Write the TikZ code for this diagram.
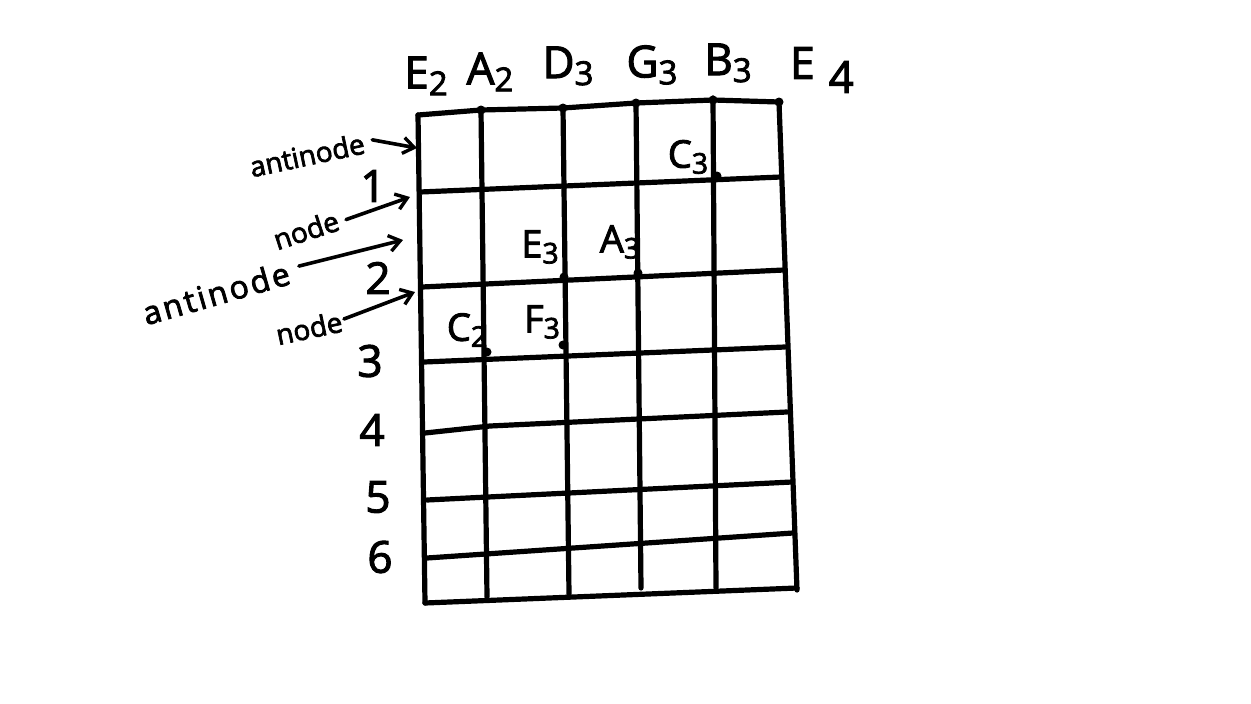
\documentclass[tikz,border=0pt]{standalone}
\usepackage{fontspec}
\setmainfont{Open Sans}[FakeBold=2.5]
\usetikzlibrary{arrows.meta}
\newcommand\lowsub[2][-7pt]{\raisebox{#1}{\scalebox{0.75}{#2}}}
\begin{document}
\begin{tikzpicture}[x=1pt,y=-1pt,
  gridline/.style={line width=5.2pt,line cap=round,line join=round},
  pen/.style={line width=3.6pt,line cap=round,-{Straight Barb[length=11pt,width=16pt,line width=3.4pt]}},
  dotmark/.style={fill=black,circle,inner sep=0pt,minimum size=9pt},
  toplab/.style={font=\fontsize{44}{44}\selectfont,inner sep=0pt},
  cellab/.style={font=\fontsize{38}{38}\selectfont,inner sep=0pt},
  numlab/.style={font=\fontsize{44}{44}\selectfont,inner sep=0pt},
  sidelab/.style={font=\fontsize{28}{28}\selectfont,inner sep=0pt}]
\fill[white] (0,0) rectangle (1251,704);
\path[use as bounding box] (0,0) rectangle (1251,704);
% grid
\draw[gridline] (418,115) -- (481,110) -- (563,108) -- (636,103) -- (713,100) -- (779,102);
\draw[gridline] (420,192) -- (781,177);
\draw[gridline] (422,287) -- (784,270);
\draw[gridline] (424,362) -- (785,347);
\draw[gridline] (425,433) -- (490,426) -- (787,412);
\draw[gridline] (427,500) -- (792,482);
\draw[gridline] (427,558) -- (793,533);
\draw[gridline] (425,603) -- (797,588);
\draw[gridline] (418,115) -- (425,603);
\draw[gridline] (481,110) -- (487,597);
\draw[gridline] (563,108) -- (569,594);
\draw[gridline] (636,103) -- (641,588);
\draw[gridline] (713,98) -- (716,588);
\draw[gridline] (779,102) -- (797,590);
% dots
\foreach \p in {(481,110),(563,108),(636,103),(713,100),(779,102),(717,176),(564,277),(638,273),(487,352),(563,345)}
  \node[dotmark] at \p {};
% string labels
\node[toplab] (e2) at (426,76) {E\lowsub{2}};
\node[toplab] (a2) at (490,72) {A\lowsub{2}};
\node[toplab] (d3) at (568,66) {D\lowsub{3}};
\node[toplab] (g3) at (652,65) {G\lowsub{3}};
\node[toplab] (b3) at (728,63) {B\lowsub{3}};
\node[toplab] (e4) at (822,70) {E\hspace{14pt}\raisebox{-14pt}{4}};
% notes in cells
\node[cellab] (c3) at (688,157) {C\lowsub[-6pt]{3}};
\node[cellab] (ee3) at (540,247) {E\lowsub[-6pt]{3}};
\node[cellab] (a3) at (620,242) {A\lowsub[-6pt]{3}};
\node[cellab] (c2) at (467,330) {C\lowsub[-6pt]{2}};
\node[cellab] (f3) at (542,322) {F\lowsub[-6pt]{3}};
% fret numbers
\node[numlab] (n1) at (373,186) {1};
\node[numlab] (n2) at (378,278) {2};
\node[numlab] (n3) at (370,361) {3};
\node[numlab] (n4) at (372,430) {4};
\node[numlab] (n5) at (378,497) {5};
\node[numlab] (n6) at (380,557) {6};
% side labels
\node[sidelab,rotate=12] (anti1) at (307,155) {antinode};
\node[sidelab,rotate=18] (node1) at (306,230) {node};
\node[sidelab,rotate=16,font=\fontsize{32}{32}\selectfont\addfontfeature{LetterSpace=8}] (anti2) at (216,293) {antinode};
\node[sidelab,rotate=12] (node2) at (309,328) {node};
\coordinate (t1) at (417,148);
\coordinate (t2) at (410,197);
\coordinate (t3) at (403,240);
\coordinate (t4) at (415,292);
\draw[pen] (anti1.east) ++(8,-3) -- (t1);
\draw[pen] (node1.east) ++(8,0) -- (t2);
\draw[pen] (anti2.east) ++(10,-6) -- (t3);
\draw[pen] (node2.east) ++(2,-2) -- (t4);
\end{tikzpicture}
\end{document}
